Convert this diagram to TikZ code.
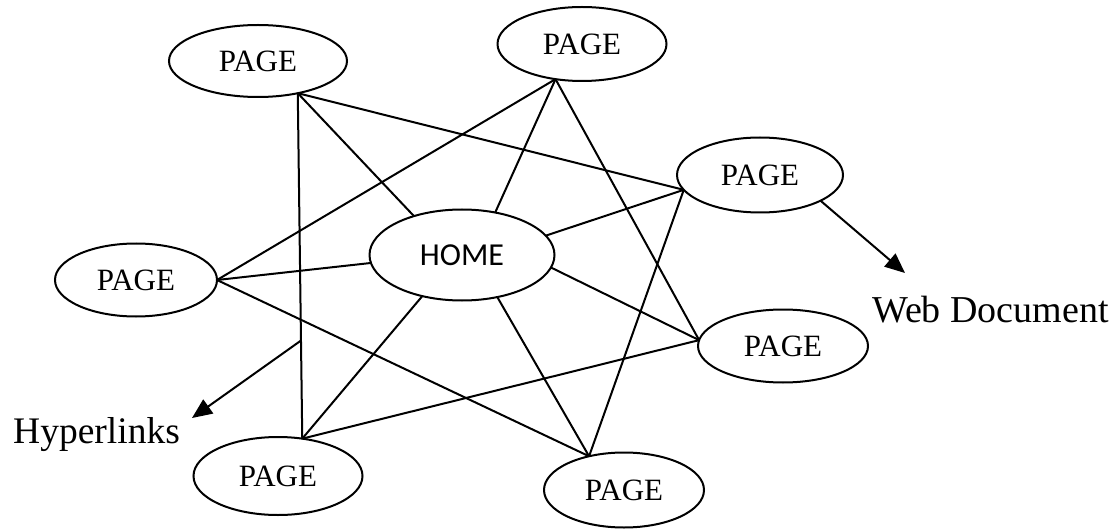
\documentclass[tikz,border=0pt]{standalone}
\usepackage{fontspec}
\setmainfont{Liberation Serif}
\newfontfamily\homefont{Carlito}
\usetikzlibrary{shapes.geometric,arrows.meta,calc}
\begin{document}
\begin{tikzpicture}[x=1pt,y=-1pt,
  pg/.style={draw, ellipse, line width=2pt, inner sep=0pt, outer sep=0pt, font=\fontsize{31}{32}\selectfont},
  link/.style={line width=2pt},
  ptr/.style={line width=2pt, -{Triangle[length=20pt,width=17pt]}},
  lbl/.style={inner sep=0pt, anchor=base west}]
\useasboundingbox (0,0) rectangle (1115,529);
\node[pg, minimum width=178pt, minimum height=72pt] (tl) at (258,61) {PAGE};
\node[pg, minimum width=169pt, minimum height=74pt] (tp) at (582,44) {PAGE};
\node[pg, minimum width=166pt, minimum height=75pt] (rt) at (760,175) {PAGE};
\node[pg, minimum width=185pt, minimum height=91pt, font=\homefont\fontsize{32}{34}\selectfont] (home) at (462,255) {HOME};
\node[pg, minimum width=162pt, minimum height=73pt] (lf) at (136,280) {PAGE};
\node[pg, minimum width=170pt, minimum height=73pt] (rl) at (783,346) {PAGE};
\node[pg, minimum width=169pt, minimum height=78pt] (bl) at (278,476) {PAGE};
\node[pg, minimum width=160pt, minimum height=75pt] (br) at (624,490) {PAGE};
% star
\draw[link] (tl.-39) -- (bl.57);
\draw[link] (tl.-39) -- (rt.-169);
\draw[link] (rt.-169) -- (br.136);
\draw[link] (br.136) -- (lf.0);
\draw[link] (lf.0) -- (tp.-127);
\draw[link] (tp.-127) -- (rl.176);
\draw[link] (rl.176) -- (bl.57);
% to home
\draw[link] (tl.-39) -- (home.141);
\draw[link] (tp.-127) -- (home.52);
\draw[link] (rt.-169) -- (home.13);
\draw[link] (rl.176) -- (home.-8);
\draw[link] (br.136) -- (home.-50);
\draw[link] (bl.57) -- (home.-134);
\draw[link] (lf.0) -- (home.-175);
% pointers
\coordinate (hs) at ($(tl.-39)!0.716!(bl.57)$);
\coordinate (ht) at (192,418);
\draw[ptr] (hs) -- (ht);
\coordinate (wt) at (905,273);
\draw[ptr] (rt.-23) -- (wt);
\node[lbl, font=\fontsize{37.5}{40}\selectfont] (hl) at (13,443) {Hyperlinks};
\node[lbl, font=\fontsize{38}{40}\selectfont] (wd) at (872,322) {Web Document};
\end{tikzpicture}
\end{document}
